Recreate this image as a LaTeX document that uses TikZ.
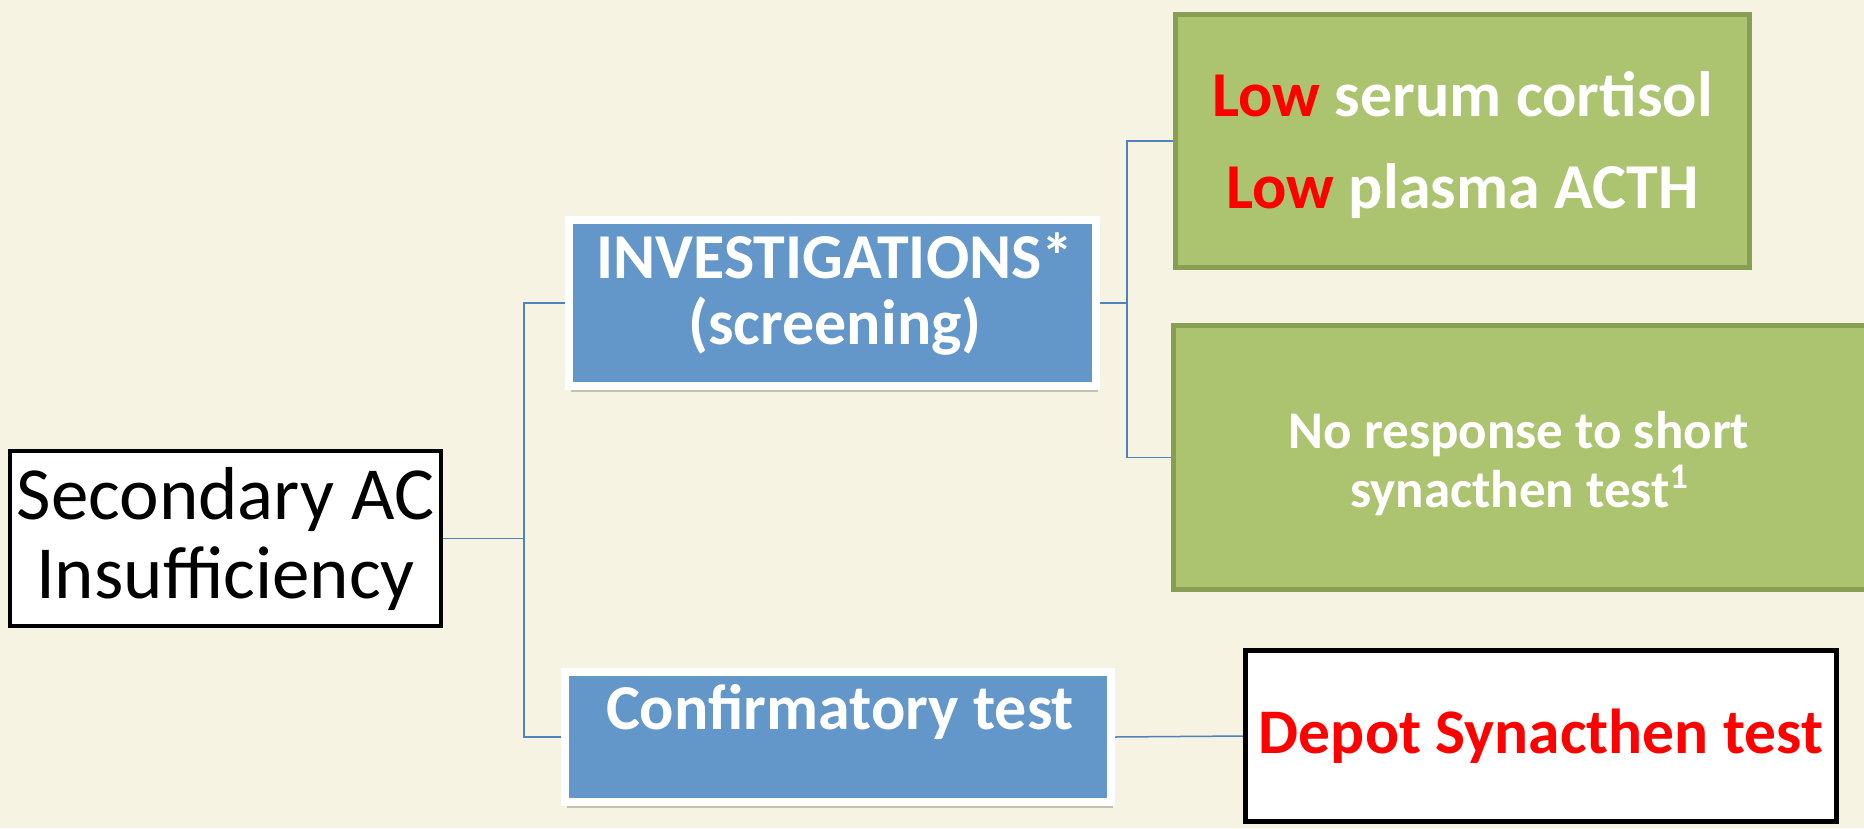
\documentclass[tikz,border=0pt]{standalone}
\usepackage{fontspec}
\setmainfont{Carlito}
\usetikzlibrary{shadows,backgrounds}
\definecolor{bg}{HTML}{F7F3E2}
\definecolor{bluefill}{HTML}{6396C9}
\definecolor{greenfill}{HTML}{ACC46F}
\definecolor{greenline}{HTML}{879F52}
\definecolor{connblue}{HTML}{4F81BD}
\definecolor{lowred}{HTML}{FF0000}
\begin{document}
\begin{tikzpicture}[x=1pt,y=-1pt,
  connector/.style={draw=connblue, line width=1.5pt},
  bluebox/.style={rectangle, fill=bluefill, draw=white, line width=8pt, inner sep=0pt,
    drop shadow={shadow xshift=2pt, shadow yshift=-6pt, opacity=0.3, fill=black!70}},
  greenbox/.style={rectangle, fill=greenfill, draw=greenline, line width=5pt, inner sep=0pt},
  greentext/.style={text=white, align=center, inner sep=0pt},
  whitebox/.style={rectangle, fill=white, draw=black, inner sep=0pt, align=center}
]
\useasboundingbox (0,0) rectangle (1864,828);

\node[whitebox, line width=4pt, minimum width=431pt, minimum height=175pt,
  font=\fontsize{75}{79}\selectfont] (sec) at (225.5,538.5) {Secondary AC\\Insufficiency};

\node[bluebox, minimum width=527pt, minimum height=166pt] (inv) at (832.5,303) {};
\node[text=white, align=center, inner sep=0pt,
  font=\fontsize{64}{66}\selectfont\bfseries] (invtext) at (835,294) {INVESTIGATIONS*\\(screening)};

\node[bluebox, minimum width=546pt, minimum height=130pt] (conf) at (838,737) {};
\node[text=white, font=\fontsize{64}{64}\selectfont\bfseries, inner sep=0pt] (conftext) at (840,712) {Confirmatory test};

\node[greenbox, minimum width=574pt, minimum height=253pt] (g1) at (1462.5,141) {};
\node[greentext, font=\fontsize{64}{92}\selectfont\bfseries] (g1text) at (1462.5,145)
  {{\color{lowred}Low} serum cortisol\\{\color{lowred}Low} plasma ACTH};

\node[greenbox, minimum width=694.5pt, minimum height=264pt] (g2) at (1521,457.5) {};
\node[greentext, font=\fontsize{53}{59}\selectfont\bfseries] (g2text) at (1519,464)
  {No response to short\\synacthen test\raisebox{0.36em}{\fontsize{36}{36}\selectfont 1}};

\node[whitebox, line width=5pt, minimum width=591pt, minimum height=171pt, text=lowred,
  font=\fontsize{63.5}{64}\selectfont\bfseries] (dep) at (1541,736) {Depot Synacthen test};

\coordinate (j1) at (524,538.5);
\coordinate (j2) at (1127,303);

\begin{scope}[on background layer]
  \fill[bg] (0,0) rectangle (1864,828);
  \draw[connector] (sec.east) -- (j1);
  \draw[connector] (inv.west) -| (j1) |- (conf.west);
  \draw[connector] (inv.east) -- (j2);
  \draw[connector] (g1.west) -| (j2) |- (g2.west);
  \draw[connector] (conf.east) -- (dep.west);
\end{scope}
\end{tikzpicture}
\end{document}
